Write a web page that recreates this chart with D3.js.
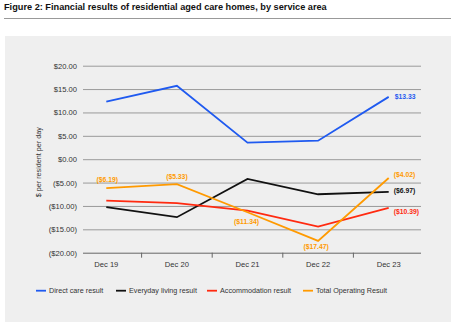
<!DOCTYPE html>
<html>
<head>
<meta charset="utf-8">
<script src="https://cdn.jsdelivr.net/npm/d3@7"></script>
<style>
  body { margin: 0; background: #fff; font-family: "Liberation Sans", Arial, sans-serif; }
</style>
</head>
<body>
<div id="chart"></div>
<script>
// ---- data ----
const periods = ["Dec 19", "Dec 20", "Dec 21", "Dec 22", "Dec 23"];
const seriesNames = ["Direct care result", "Everyday living result", "Accommodation result", "Total Operating Result"];
const directCare = [12.3, 15.7, 3.55, 3.97, 13.33];
const everydayLiving = [-10.25, -12.4, -4.2, -7.5, -6.97];
const accommodation = [-8.85, -9.4, -11.0, -14.4, -10.39];
const totalOperating = [-6.19, -5.33, -11.34, -17.47, -4.02];
const yTicks = [20, 15, 10, 5, 0, -5, -10, -15, -20];
const seriesColors = ["#1f5af0", "#111111", "#ff2a10", "#ff9a00"];

// labels: [series index, period index, dx, dy, anchor]
const pointLabels = [
  [0, 4, 6, 0, "start"],
  [1, 4, 5, -1, "start"],
  [2, 4, 5, 4, "start"],
  [3, 4, 5, -3, "start"],
  [3, 0, 1, -9, "middle"],
  [3, 1, 0, -7, "middle"],
  [3, 2, -1, 9, "middle"],
  [3, 3, -2, 6, "middle"]
];

const series = [directCare, everydayLiving, accommodation, totalOperating];

const W = 455, H = 325;
const svg = d3.select("#chart").append("svg")
  .attr("width", W).attr("height", H);

// title + rule
svg.append("text")
  .attr("x", 4).attr("y", 9.5)
  .style("font-size", "9.2px").style("font-weight", "bold")
  .attr("fill", "#111")
  .text("Figure 2: Financial results of residential aged care homes, by service area");

svg.append("line")
  .attr("x1", 4).attr("x2", 451).attr("y1", 18.5).attr("y2", 18.5)
  .attr("stroke", "#999").attr("stroke-width", 1);

// panel
svg.append("rect")
  .attr("x", 5).attr("y", 36).attr("width", 446).attr("height", 286)
  .attr("fill", "#efefef");

// scales
const x = d3.scaleBand().domain(periods).range([71, 424]);
const y = d3.scaleLinear().domain([-20, 20]).range([252.7, 65.7]);
const cx = p => x(p) + x.bandwidth() / 2;

const plotLeft = 83, plotRight = 421;

// y axis with gridlines
const yAxis = svg.append("g")
  .attr("transform", `translate(${plotLeft},0)`)
  .call(d3.axisLeft(y).tickValues(yTicks)
    .tickSize(-(plotRight - plotLeft)).tickPadding(6)
    .tickFormat(d => d < 0 ? `($${Math.abs(d).toFixed(2)})` : `$${d.toFixed(2)}`));
yAxis.select(".domain").remove();
yAxis.selectAll(".tick line").attr("stroke", "#9a9a9a").attr("stroke-width", 1);
yAxis.selectAll(".tick text")
  .style("font-size", "7.6px").attr("fill", "#333")
  .style("font-family", "'Liberation Sans', Arial, sans-serif");
yAxis.selectAll(".tick").filter(d => d === -20).select("line").attr("stroke", "#666");

// x axis labels and tick marks between categories
const xAxisG = svg.append("g");
xAxisG.selectAll("text").data(periods).join("text")
  .attr("x", d => cx(d)).attr("y", y(-20) + 14.5)
  .attr("text-anchor", "middle")
  .style("font-size", "7.6px").attr("fill", "#333")
  .text(d => d);
xAxisG.selectAll("line").data(periods.slice(1)).join("line")
  .attr("x1", d => x(d)).attr("x2", d => x(d))
  .attr("y1", y(-20)).attr("y2", y(-20) + 5)
  .attr("stroke", "#666");

// y axis title
svg.append("text")
  .attr("transform", `translate(41,${(y(-20) + y(20)) / 2 + 3}) rotate(-90)`)
  .attr("text-anchor", "middle")
  .style("font-size", "7.2px").attr("fill", "#333")
  .text("$ per resident per day");

// lines
const line = d3.line()
  .x((d, i) => cx(periods[i]))
  .y(d => y(d));

series.forEach((vals, i) => {
  svg.append("path")
    .datum(vals)
    .attr("fill", "none")
    .attr("stroke", seriesColors[i])
    .attr("stroke-width", 1.8)
    .attr("d", line);
});

// data labels
const fmt = v => v < 0 ? `($${Math.abs(v).toFixed(2)})` : `$${v.toFixed(2)}`;
svg.append("g").selectAll("text").data(pointLabels).join("text")
  .attr("x", d => cx(periods[d[1]]) + d[2])
  .attr("y", d => y(series[d[0]][d[1]]) + d[3])
  .attr("dy", "0.35em")
  .attr("text-anchor", d => d[4])
  .style("font-size", "6.8px").style("font-weight", "bold")
  .attr("fill", d => seriesColors[d[0]])
  .text(d => fmt(series[d[0]][d[1]]));

// legend
const legendX = [36, 116, 207, 303];
const legend = svg.append("g").attr("transform", "translate(0,290.7)");
seriesNames.forEach((name, i) => {
  const g = legend.append("g").attr("transform", `translate(${legendX[i]},0)`);
  g.append("line")
    .attr("x1", 0).attr("x2", 10).attr("y1", 0).attr("y2", 0)
    .attr("stroke", seriesColors[i]).attr("stroke-width", 1.8);
  g.append("text")
    .attr("x", 13).attr("y", 0).attr("dy", "0.35em")
    .style("font-size", "7.2px").attr("fill", "#333")
    .text(name);
});
</script>
</body>
</html>
